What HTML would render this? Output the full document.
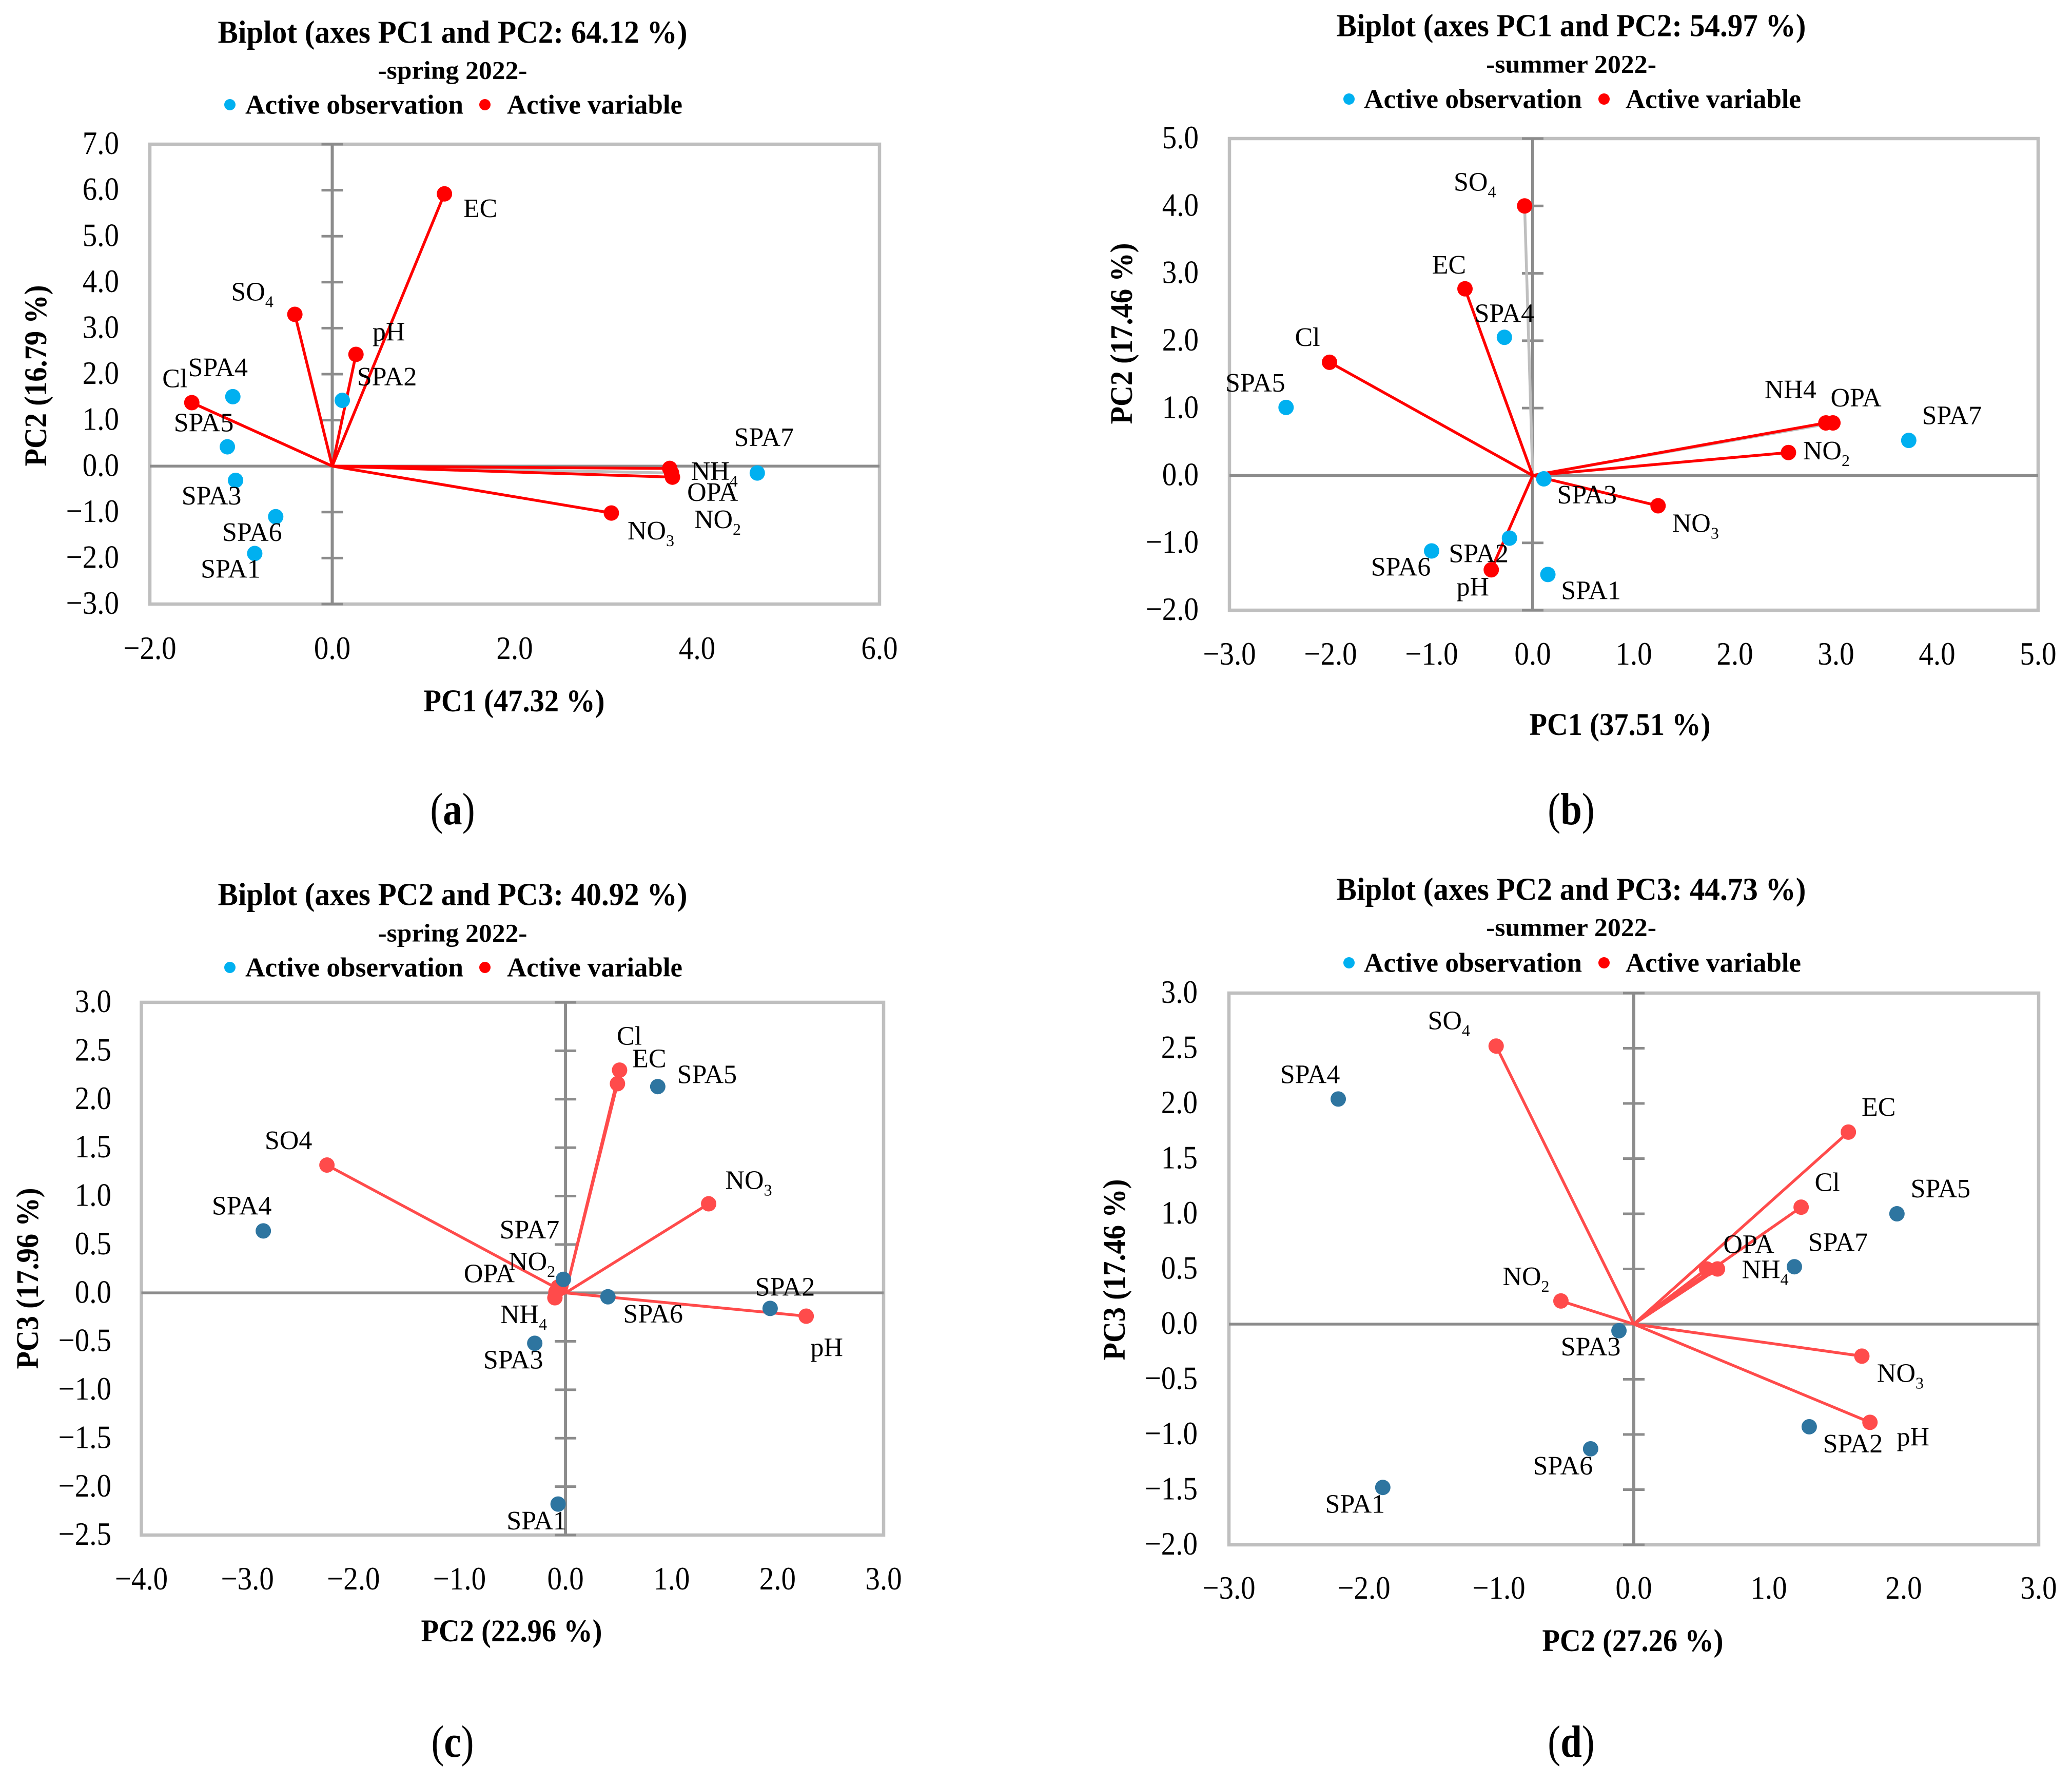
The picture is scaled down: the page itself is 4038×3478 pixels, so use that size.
<!DOCTYPE html>
<html lang="en">
<head>
<meta charset="utf-8">
<title>PCA biplots, spring and summer 2022</title>
<style>
html,body{margin:0;padding:0;background:#fff;}
svg{display:block;}
text{font-family:"Liberation Serif","DejaVu Serif",serif;fill:#000;}
</style>
</head>
<body>
<svg id="chart" xmlns="http://www.w3.org/2000/svg" width="4038" height="3478" viewBox="0 0 4038 3478">
<rect width="4038" height="3478" fill="#ffffff"/>
</svg>
<script>
/* ---------- chart data ---------- */
const variableLabelsA = ['EC','SO_4','pH','Cl','NH_4','OPA','NO_2','NO_3'];
const variableXA = [1.23,-0.41,0.26,-1.54,3.70,3.72,3.73,3.06];
const variableYA = [5.92,3.30,2.43,1.38,-0.05,-0.15,-0.24,-1.02];
const observationLabelsA = ['SPA1','SPA2','SPA3','SPA4','SPA5','SPA6','SPA7'];
const observationXA = [-0.85,0.11,-1.06,-1.09,-1.15,-0.62,4.66];
const observationYA = [-1.90,1.43,-0.31,1.51,0.42,-1.10,-0.15];
const xTicksA = [-2,0,2,4,6];
const yTicksA = [-3,-2,-1,0,1,2,3,4,5,6,7];

const variableLabelsB = ['SO_4','EC','Cl','NH4','OPA','NO_2','NO_3','pH'];
const variableXB = [-0.08,-0.67,-2.01,2.90,2.97,2.53,1.24,-0.41];
const variableYB = [4.00,2.77,1.68,0.78,0.78,0.34,-0.45,-1.40];
const observationLabelsB = ['SPA1','SPA2','SPA3','SPA4','SPA5','SPA6','SPA7'];
const observationXB = [0.15,-0.23,0.11,-0.28,-2.44,-1.00,3.72];
const observationYB = [-1.47,-0.93,-0.05,2.05,1.01,-1.12,0.52];
const xTicksB = [-3,-2,-1,0,1,2,3,4,5];
const yTicksB = [-2,-1,0,1,2,3,4,5];

const variableLabelsC = ['SO4','Cl','EC','NO_3','pH','NO_2','OPA','NH_4'];
const variableXC = [-2.25,0.51,0.49,1.35,2.27,-0.07,-0.09,-0.10];
const variableYC = [1.32,2.30,2.16,0.92,-0.24,0.06,0.01,-0.05];
const observationLabelsC = ['SPA1','SPA2','SPA3','SPA4','SPA5','SPA6','SPA7'];
const observationXC = [-0.07,1.93,-0.29,-2.85,0.87,0.40,-0.02];
const observationYC = [-2.18,-0.16,-0.52,0.64,2.13,-0.04,0.14];
const xTicksC = [-4,-3,-2,-1,0,1,2,3];
const yTicksC = [-2.5,-2,-1.5,-1,-0.5,0,0.5,1,1.5,2,2.5,3];

const variableLabelsD = ['SO_4','EC','Cl','OPA','NH_4','NO_2','NO_3','pH'];
const variableXD = [-1.02,1.59,1.24,0.54,0.62,-0.54,1.69,1.75];
const variableYD = [2.52,1.74,1.06,0.50,0.50,0.21,-0.29,-0.89];
const observationLabelsD = ['SPA1','SPA2','SPA3','SPA4','SPA5','SPA6','SPA7'];
const observationXD = [-1.86,1.30,-0.11,-2.19,1.95,-0.32,1.19];
const observationYD = [-1.48,-0.93,-0.06,2.04,1.00,-1.13,0.52];
const xTicksD = [-3,-2,-1,0,1,2,3];
const yTicksD = [-2,-1.5,-1,-0.5,0,0.5,1,1.5,2,2.5,3];

/* ---------- layout (pixels and styles, separate from data) ---------- */
const panelLayouts = [
  {key:'a',letter:'a',title:'Biplot (axes PC1 and PC2: 64.12 %)',season:'-spring 2022-',xTitle:'PC1 (47.32 %)',yTitle:'PC2 (16.79 %)',
   vl:variableLabelsA,vx:variableXA,vy:variableYA,ol:observationLabelsA,ox:observationXA,oy:observationYA,xt:xTicksA,yt:yTicksA,
   left:292,right:1714,top:281,bottom:1177,xMin:-2,xMax:6,yMin:-3,yMax:7,
   cx:882,titleY:63,subY:137,legY:204,subW:291,dot1:448,t1:478,dot2:945,t2:988,letterY:1583,
   xTitleX:1002,xTitleY:1366,yTitleX:70,yTitleY:732,xTickY:1263,yTickR:232,
   varColor:'#ff0000',obsColor:'#00b0f0',gray:['OPA'],
   varOff:[[70,28],[-83,-44],[64,-44],[-33,-47],[87,5],[80,37],[88,82],[77,34]],
   obsOff:[[-47,30],[87,-46],[-47,30],[-29,-57],[-46,-47],[-46,30],[13,-70]]},
  {key:'b',letter:'b',title:'Biplot (axes PC1 and PC2: 54.97 %)',season:'-summer 2022-',xTitle:'PC1 (37.51 %)',yTitle:'PC2 (17.46 %)',
   vl:variableLabelsB,vx:variableXB,vy:variableYB,ol:observationLabelsB,ox:observationXB,oy:observationYB,xt:xTicksB,yt:yTicksB,
   left:2396,right:3972,top:270,bottom:1189,xMin:-3,xMax:5,yMin:-2,yMax:5,
   cx:3062,titleY:50,subY:125,legY:193,subW:332,dot1:2629,t1:2658,dot2:3126,t2:3168,letterY:1583,
   xTitleX:3157,xTitleY:1412,yTitleX:2186,yTitleY:650,xTickY:1274,yTickR:2336,
   varColor:'#ff0000',obsColor:'#00b0f0',gray:['SO_4','OPA'],
   varOff:[[-97,-47],[-31,-47],[-43,-49],[-69,-65],[45,-49],[74,-4],[73,34],[-36,33]],
   obsOff:[[84,31],[-60,30],[84,31],[0,-47],[-60,-48],[-60,31],[84,-49]]},
  {key:'c',letter:'c',title:'Biplot (axes PC2 and PC3: 40.92 %)',season:'-spring 2022-',xTitle:'PC2 (22.96 %)',yTitle:'PC3 (17.96 %)',
   vl:variableLabelsC,vx:variableXC,vy:variableYC,ol:observationLabelsC,ox:observationXC,oy:observationYC,xt:xTicksC,yt:yTicksC,
   left:275.5,right:1722,top:1953,bottom:2991,xMin:-4,xMax:3,yMin:-2.5,yMax:3,
   cx:882,titleY:1743,subY:1818,legY:1885,subW:291,dot1:448,t1:478,dot2:945,t2:988,letterY:3400,
   xTitleX:997,xTitleY:3178,yTitleX:54,yTitleY:2491,xTickY:3076,yTickR:217,
   varColor:'#ff4b4b',obsColor:'#2e75a0',gray:[],
   varOff:[[-75,-48],[19,-67],[62,-49],[78,-46],[40,61],[-51,-50],[-130,-36],[-61,32]],
   obsOff:[[-42,32],[29,-42],[-42,32],[-42,-49],[96,-24],[88,33],[-66,-97]]},
  {key:'d',letter:'d',title:'Biplot (axes PC2 and PC3: 44.73 %)',season:'-summer 2022-',xTitle:'PC2 (27.26 %)',yTitle:'PC3 (17.46 %)',
   vl:variableLabelsD,vx:variableXD,vy:variableYD,ol:observationLabelsD,ox:observationXD,oy:observationYD,xt:xTicksD,yt:yTicksD,
   left:2395,right:3973,top:1935,bottom:3010,xMin:-3,xMax:3,yMin:-2,yMax:3,
   cx:3062,titleY:1733,subY:1807,legY:1876,subW:332,dot1:2629,t1:2658,dot2:3126,t2:3168,letterY:3400,
   xTitleX:3182,xTitleY:3197,yTitleX:2172,yTitleY:2474,xTickY:3094,yTickR:2334,
   varColor:'#ff4b4b',obsColor:'#2e75a0',gray:[],
   varOff:[[-92,-50],[59,-49],[51,-49],[82,-48],[93,1],[-68,-48],[75,33],[84,28]],
   obsOff:[[-54,32],[85,33],[-55,31],[-55,-48],[85,-49],[-54,33],[85,-48]]}
];

const NS = 'http://www.w3.org/2000/svg';
const root = document.getElementById('chart');

function make(parent, tag, attrs) {
  const node = document.createElementNS(NS, tag);
  for (const k in attrs) node.setAttribute(k, attrs[k]);
  parent.appendChild(node);
  return node;
}
function makeText(parent, str, x, centerY, size, attrs) {
  const base = Object.assign({x: x, y: centerY + 0.33 * size, 'font-size': size, 'text-anchor': 'middle'}, attrs || {});
  const node = make(parent, 'text', base);
  node.textContent = str;
  return node;
}
/* tick number: tall digits narrowed horizontally to the reference proportions */
function makeTickText(parent, str, x, centerY, anchor) {
  const size = 64;
  const node = make(parent, 'text', {x: 0, y: 0, 'font-size': size, 'text-anchor': anchor, transform: 'translate(' + x + ',' + (centerY + 0.33 * size - 2) + ') scale(0.89,1)'});
  node.textContent = str;
  return node;
}
function makeChemLabel(parent, str, x, centerY) {
  const size = 52;
  const parts = str.split('_');
  const node = make(parent, 'text', {x: x, y: centerY + 0.33 * size, 'font-size': size, 'text-anchor': 'middle'});
  node.appendChild(document.createTextNode(parts[0]));
  if (parts[1]) {
    const sub = make(node, 'tspan', {dy: 13, 'font-size': 32});
    sub.textContent = parts[1];
  }
  return node;
}
function formatTick(v) {
  return v.toFixed(1).replace('-', '\u2212');
}
function slug(str) {
  return str.replace('_', '').toLowerCase();
}

function drawPanel(p) {
  const scaleX = v => p.left + (v - p.xMin) / (p.xMax - p.xMin) * (p.right - p.left);
  const scaleY = v => p.bottom - (v - p.yMin) / (p.yMax - p.yMin) * (p.bottom - p.top);
  const zeroX = scaleX(0), zeroY = scaleY(0);

  const g = make(root, 'g', {});
  
  

  const title = makeText(g, p.title, p.cx, p.titleY, 62, {'font-weight': 'bold', textLength: 915, lengthAdjust: 'spacingAndGlyphs'});
  
  

  const season = makeText(g, p.season, p.cx, p.subY, 50, {'font-weight': 'bold', textLength: p.subW, lengthAdjust: 'spacingAndGlyphs'});
  
  

  const legend = make(g, 'g', {});
  
  
  const dotObs = make(legend, 'circle', {cx: p.dot1, cy: p.legY, r: 11, fill: '#00b0f0'});
  
  
  const legObs = makeText(legend, 'Active observation', p.t1, p.legY, 53, {'font-weight': 'bold', 'text-anchor': 'start', textLength: 425, lengthAdjust: 'spacingAndGlyphs'});
  
  
  const dotVar = make(legend, 'circle', {cx: p.dot2, cy: p.legY, r: 11, fill: '#ff0000'});
  
  
  const legVar = makeText(legend, 'Active variable', p.t2, p.legY, 53, {'font-weight': 'bold', 'text-anchor': 'start', textLength: 342, lengthAdjust: 'spacingAndGlyphs'});
  
  

  const frame = make(g, 'rect', {x: p.left, y: p.top, width: p.right - p.left, height: p.bottom - p.top, fill: 'none', stroke: '#bfbfbf', 'stroke-width': 6.5});
  
  

  const xAxis = make(g, 'line', {x1: p.left, x2: p.right, y1: zeroY, y2: zeroY, stroke: '#8c8c8c', 'stroke-width': 5.5});
  
  
  const yAxis = make(g, 'line', {x1: zeroX, x2: zeroX, y1: p.top, y2: p.bottom, stroke: '#8c8c8c', 'stroke-width': 6});
  
  

  p.yt.forEach(v => {
    const tick = make(g, 'line', {x1: zeroX - 21, x2: zeroX + 21, y1: scaleY(v), y2: scaleY(v), stroke: '#8c8c8c', 'stroke-width': 5});
    
    
    const lab = makeTickText(g, formatTick(v), p.yTickR, scaleY(v), 'end');
    
    
  });
  p.xt.forEach(v => {
    const lab = makeTickText(g, formatTick(v), scaleX(v), p.xTickY + 2, 'middle');
    
    
  });

  const xTitle = makeText(g, p.xTitle, p.xTitleX, p.xTitleY, 61, {'font-weight': 'bold', textLength: 353, lengthAdjust: 'spacingAndGlyphs'});
  
  
  const yTitle = makeText(g, p.yTitle, 0, 0, 61, {'font-weight': 'bold', textLength: 353, lengthAdjust: 'spacingAndGlyphs', transform: 'translate(' + p.yTitleX + ',' + p.yTitleY + ') rotate(-90)'});
  
  

  /* variable vectors: gray ones underneath, then the coloured ones */
  const order = p.vl.map((_, i) => i).sort((a, b) => (p.gray.includes(p.vl[b]) ? 1 : 0) - (p.gray.includes(p.vl[a]) ? 1 : 0));
  order.forEach(i => {
    const isGray = p.gray.includes(p.vl[i]);
    const vector = make(g, 'line', {x1: scaleX(0), y1: scaleY(0), x2: scaleX(p.vx[i]), y2: scaleY(p.vy[i]), stroke: isGray ? '#bfbfbf' : p.varColor, 'stroke-width': 5.5});
    
    
  });
  p.vl.forEach((name, i) => {
    const dot = make(g, 'circle', {cx: scaleX(p.vx[i]), cy: scaleY(p.vy[i]), r: 15, fill: p.varColor});
    
    
  });
  p.ol.forEach((name, i) => {
    const dot = make(g, 'circle', {cx: scaleX(p.ox[i]), cy: scaleY(p.oy[i]), r: 15, fill: p.obsColor});
    
    
  });
  p.vl.forEach((name, i) => {
    const lab = makeChemLabel(g, name, scaleX(p.vx[i]) + p.varOff[i][0], scaleY(p.vy[i]) + p.varOff[i][1]);
    
    
  });
  p.ol.forEach((name, i) => {
    const lab = makeChemLabel(g, name, scaleX(p.ox[i]) + p.obsOff[i][0], scaleY(p.oy[i]) + p.obsOff[i][1]);
    
    
  });

  const cap = make(g, 'text', {x: 0, y: 0, 'font-size': 88, 'text-anchor': 'middle', transform: 'translate(' + p.cx + ',' + (p.letterY + 23) + ') scale(0.85,1)'});
  
  
  cap.appendChild(document.createTextNode('('));
  const bold = make(cap, 'tspan', {'font-weight': 'bold'});
  bold.textContent = p.letter;
  cap.appendChild(document.createTextNode(')'));
}

panelLayouts.forEach(drawPanel);
</script>
</body>
</html>
